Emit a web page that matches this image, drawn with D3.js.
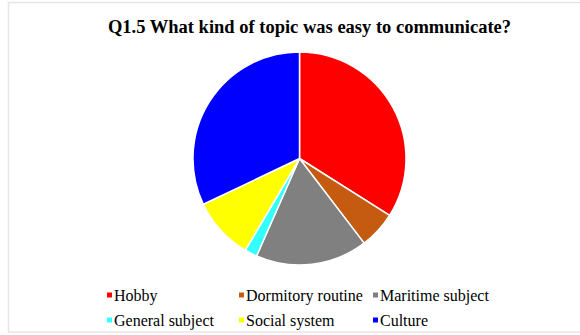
<!DOCTYPE html>
<html><head><meta charset="utf-8">
<script src="https://cdn.jsdelivr.net/npm/d3@7"></script>
<style>html,body{margin:0;padding:0;background:#fff;}svg{display:block;}
text{font-family:"Liberation Serif","Tinos","Times New Roman","DejaVu Serif",Times,serif;}</style>
</head><body>
<svg id="chart" width="580" height="335"></svg>
<script>
const categories = ["Hobby", "Dormitory routine", "Maritime subject", "General subject", "Social system", "Culture"];
const values = [18, 3, 9, 1, 5, 17];
const colors = ["#FF0000", "#C55A11", "#808080", "#33FFFF", "#FFFF00", "#0000FF"];
const title = "Q1.5 What kind of topic was easy to communicate?";

const svg = d3.select("#chart");
svg.append("rect").attr("x", 8.5).attr("y", 2.5).attr("width", 580).attr("height", 329.5)
  .attr("fill", "#fff").attr("stroke", "#e6e6e6").attr("stroke-width", 1.5);

svg.append("text").attr("x", 309.5).attr("y", 33).attr("text-anchor", "middle")
  .attr("font-weight", "bold").attr("font-size", 18.5).attr("fill", "#000").text(title);

const data = categories.map((c, i) => ({ name: c, value: values[i], color: colors[i] }));
const pie = d3.pie().value(d => d.value).sort(null);
const arc = d3.arc().innerRadius(0).outerRadius(106.5);
const g = svg.append("g").attr("transform", "translate(299.5,158.5)");
g.selectAll("path").data(pie(data)).join("path")
  .attr("d", arc).attr("fill", d => d.data.color)
  .attr("stroke", "#fff").attr("stroke-width", 1.5).attr("stroke-linejoin", "round");

const colX = [107, 239, 373];
const rowY = [295, 320];
const leg = svg.append("g");
data.forEach((d, i) => {
  const x = colX[i % 3], y = rowY[Math.floor(i / 3)];
  leg.append("rect").attr("x", x).attr("y", y - 2.5).attr("width", 5).attr("height", 5).attr("fill", d.color);
  leg.append("text").attr("x", x + 7).attr("y", y + 5.5)
    .attr("font-size", 16).attr("fill", "#000").text(d.name);
});
</script>
</body></html>
